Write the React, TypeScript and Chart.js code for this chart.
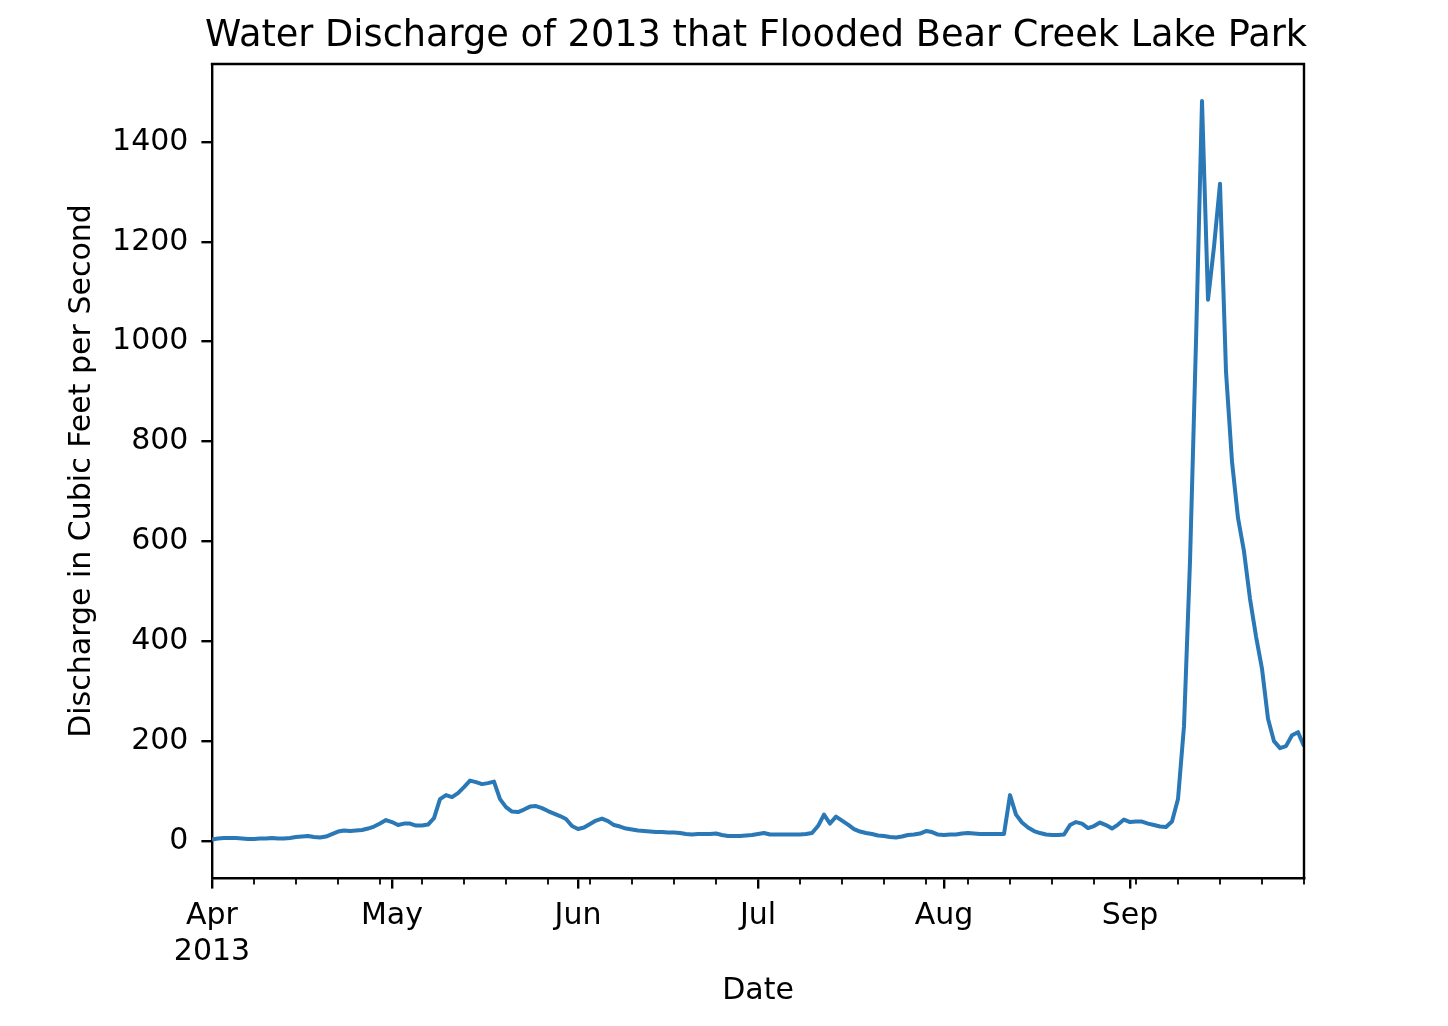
import React, { useEffect, useRef } from 'react';
import { Chart, registerables } from 'chart.js';

Chart.register(...registerables);

// ---- data (daily mean discharge, cubic feet per second) ----
const months = ['Apr', 'May', 'Jun', 'Jul', 'Aug', 'Sep'];
const year = '2013';

const aprFlow = [3, 5, 6, 6, 6, 5, 4, 4, 5, 5, 6, 5, 5, 6, 8, 9, 10, 8, 7, 9, 14, 19, 21, 20, 21, 22, 25, 29, 35, 42];
const mayFlow = [38, 32, 35, 35, 31, 31, 33, 46, 84, 92, 88, 96, 108, 121, 118, 114, 116, 119, 84, 68, 59, 58, 63, 69, 70, 66, 60, 55, 50, 44, 30];
const junFlow = [24, 27, 34, 41, 45, 40, 32, 29, 25, 23, 21, 20, 19, 18, 18, 17, 17, 16, 14, 13, 14, 14, 14, 15, 12, 10, 10, 10, 11, 12];
const julFlow = [14, 16, 13, 13, 13, 13, 13, 13, 14, 16, 30, 53, 35, 49, 41, 33, 24, 19, 16, 14, 11, 10, 8, 7, 9, 12, 13, 15, 20, 18, 13];
const augFlow = [12, 13, 13, 15, 16, 15, 14, 14, 14, 14, 14, 92, 53, 37, 27, 20, 16, 13, 12, 12, 13, 32, 38, 35, 26, 30, 37, 32, 25, 33, 43];
const sepFlow = [38, 39, 39, 35, 32, 29, 28, 39, 84, 230, 560, 1000, 1482, 1084, 1190, 1316, 940, 760, 647, 580, 485, 410, 345, 245, 200, 186, 190, 212, 218, 190];

const monthlyFlow = [aprFlow, mayFlow, junFlow, julFlow, augFlow, sepFlow];
const discharge = monthlyFlow.flat();

// day offsets of the first of each month (major ticks)
const monthStarts = monthlyFlow.reduce<number[]>((acc, m, i) => {
  acc.push(i === 0 ? 0 : acc[i - 1] + monthlyFlow[i - 1].length);
  return acc;
}, []);

const yTickValues = [0, 200, 400, 600, 800, 1000, 1200, 1400];
const yMin = -74;
const yMax = 1556;

const titleText = 'Water Discharge of 2013 that Flooded Bear Creek Lake Park';
const xTitle = 'Date';
const yTitle = 'Discharge in Cubic Feet per Second';

const FONT = '"DejaVu Sans", "Liberation Sans", sans-serif';

export default function App() {
  const canvasRef = useRef<HTMLCanvasElement | null>(null);

  useEffect(() => {
    const canvas = canvasRef.current;
    if (!canvas) return;

    const framePlugin = {
      id: 'frame',
      afterDraw(chart: any) {
        const { ctx, chartArea, scales } = chart;
        const { left, right, top, bottom } = chartArea;
        const x = scales.x;
        ctx.save();
        ctx.strokeStyle = '#000';
        ctx.lineWidth = 2.4;
        ctx.lineCap = 'butt';
        ctx.beginPath();
        ctx.moveTo(left - 1.2, top);
        ctx.lineTo(right, top);
        ctx.lineTo(right, bottom + 1.2);
        ctx.stroke();
        // weekly minor ticks
        ctx.lineWidth = 1.8;
        for (let d = 0; d < discharge.length; d += 7) {
          if (monthStarts.includes(d)) continue;
          const px = x.getPixelForValue(d);
          ctx.beginPath();
          ctx.moveTo(px, bottom);
          ctx.lineTo(px, bottom + 6.5);
          ctx.stroke();
        }
        // title
        ctx.fillStyle = '#000';
        ctx.font = `36.7px ${FONT}`;
        ctx.textAlign = 'center';
        ctx.textBaseline = 'alphabetic';
        ctx.fillText(titleText, (left + right) / 2 - 2, top - 18);
        ctx.restore();
      },
    };

    const chart = new Chart(canvas, {
      type: 'line',
      data: {
        datasets: [
          {
            data: discharge.map((v, i) => ({ x: i, y: v })),
            borderColor: '#2a78b6',
            borderWidth: 4,
            pointRadius: 0,
            tension: 0,
            fill: false,
            borderJoinStyle: 'round',
          },
        ],
      },
      options: {
        animation: false,
        responsive: true,
        maintainAspectRatio: false,
        layout: { padding: { top: 64, right: 144, left: 0, bottom: 0 } },
        plugins: {
          legend: { display: false },
          tooltip: { enabled: false },
          title: { display: false },
        },
        scales: {
          x: {
            type: 'linear',
            min: 0,
            max: discharge.length - 1,
            afterFit: (scale: any) => {
              scale.height = 148;
            },
            afterBuildTicks: (scale: any) => {
              scale.ticks = monthStarts.map((v) => ({ value: v }));
            },
            ticks: {
              autoSkip: false,
              maxRotation: 0,
              padding: 9.5,
              color: '#000',
              font: { family: FONT, size: 30, lineHeight: 1.2 },
              callback: (_v: any, index: number) => (index === 0 ? [months[0], year] : months[index]),
            },
            grid: {
              display: true,
              drawOnChartArea: false,
              drawTicks: true,
              tickLength: 10.6,
              tickWidth: 2.4,
              lineWidth: 2.4,
              tickColor: '#000',
              color: '#000',
            },
            border: { display: true, color: '#000', width: 2.4 },
            title: {
              display: true,
              text: xTitle,
              color: '#000',
              font: { family: FONT, size: 30, lineHeight: 1.2 },
              padding: { top: 0, bottom: 17 },
            },
          },
          y: {
            type: 'linear',
            min: yMin,
            max: yMax,
            afterFit: (scale: any) => {
              scale.width = 212;
            },
            afterBuildTicks: (scale: any) => {
              scale.ticks = yTickValues.map((v) => ({ value: v }));
            },
            ticks: {
              padding: 13,
              color: '#000',
              font: { family: FONT, size: 30 },
              callback: (v: any) => String(v),
            },
            grid: {
              display: true,
              drawOnChartArea: false,
              drawTicks: true,
              tickLength: 10.6,
              tickWidth: 2.4,
              lineWidth: 2.4,
              tickColor: '#000',
              color: '#000',
            },
            border: { display: true, color: '#000', width: 2.4 },
            title: {
              display: true,
              text: yTitle,
              color: '#000',
              font: { family: FONT, size: 30, lineHeight: 1.2 },
              padding: { top: 64, bottom: 0 },
            },
          },
        },
      },
      plugins: [framePlugin],
    } as any);

    return () => chart.destroy();
  }, []);

  return (
    <div
      style={{
        position: 'fixed',
        left: 0,
        top: 0,
        width: '1448px',
        height: '1026px',
        background: '#fff',
      }}
    >
      <canvas ref={canvasRef} />
    </div>
  );
}
